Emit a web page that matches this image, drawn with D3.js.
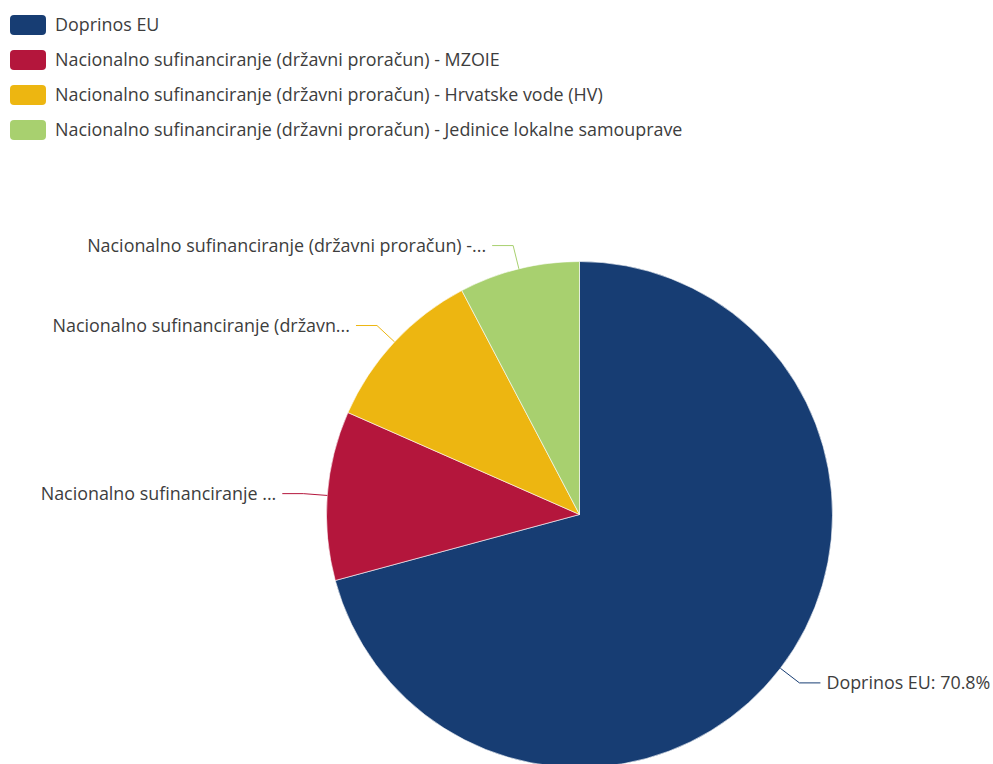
<!DOCTYPE html>
<html>
<head>
<meta charset="utf-8">
<script src="https://cdn.jsdelivr.net/npm/d3@7"></script>
<style>
  html, body { margin: 0; padding: 0; background: #fff; }
  svg { display: block; }
  text { font-family: "Open Sans", "Noto Sans", sans-serif; fill: #3d3d3d; }
</style>
</head>
<body>
<svg id="chart" width="993" height="764"></svg>
<script>
// ---- data ----
const categories = [
  "Doprinos EU",
  "Nacionalno sufinanciranje (državni proračun) - MZOIE",
  "Nacionalno sufinanciranje (državni proračun) - Hrvatske vode (HV)",
  "Nacionalno sufinanciranje (državni proračun) - Jedinice lokalne samouprave"
];
const values = [70.8, 10.8, 10.7, 7.7];
const colors = ["#173d73", "#b4163c", "#edb611", "#a8d06f"];
// labels as they appear (truncated) next to the slices
const sliceLabels = [
  "Doprinos EU: 70.8%",
  "Nacionalno sufinanciranje ...",
  "Nacionalno sufinanciranje (državn...",
  "Nacionalno sufinanciranje (državni proračun) -..."
];

const svg = d3.select("#chart");
const W = 993, H = 764;

// font size calibrated so legend text width matches reference
let fs = 16;
(function calibrate() {
  const t = svg.append("text").style("font-size", "16px").text(categories[3]);
  const w = t.node().getComputedTextLength();
  t.remove();
  fs = 16 * 628 / w;
})();

// ---- legend ----
const legend = svg.append("g");
const rowH = 35;
categories.forEach((c, i) => {
  const g = legend.append("g").attr("transform", `translate(10, ${15 + i * rowH})`);
  g.append("rect").attr("width", 36).attr("height", 20).attr("rx", 4).attr("ry", 4)
    .attr("fill", colors[i]);
  g.append("text").attr("x", 45).attr("y", 10).attr("dy", "0.35em")
    .style("font-size", fs + "px").text(c);
});

// ---- pie ----
const cx = 579.5, cy = 514.5, R = 253;
const pie = d3.pie().sort(null).value(d => d)(values);
const arc = d3.arc().innerRadius(0).outerRadius(R);
const g = svg.append("g").attr("transform", `translate(${cx},${cy})`);

g.selectAll("path.slice").data(pie).join("path")
  .attr("class", "slice")
  .attr("d", arc)
  .attr("fill", (d, i) => colors[i])
  .attr("stroke", "#fff").attr("stroke-width", 0.6);

// ---- label lines & labels ----
const L1 = 24, L2 = 21, gap = 6;
pie.forEach((d, i) => {
  const a = (d.startAngle + d.endAngle) / 2;
  const sx = Math.sin(a), sy = -Math.cos(a);
  const p0 = [R * sx, R * sy];
  const p1 = [(R + L1) * sx, (R + L1) * sy];
  const right = sx >= 0;
  const p2 = [p1[0] + (right ? L2 : -L2), p1[1]];
  g.append("path")
    .attr("d", d3.line()([p0, p1, p2]))
    .attr("fill", "none").attr("stroke", colors[i]).attr("stroke-width", 1);
  g.append("text")
    .attr("x", p2[0] + (right ? gap : -gap))
    .attr("y", p2[1]).attr("dy", "0.35em")
    .attr("text-anchor", right ? "start" : "end")
    .style("font-size", fs + "px")
    .text(sliceLabels[i]);
});
</script>
</body>
</html>
